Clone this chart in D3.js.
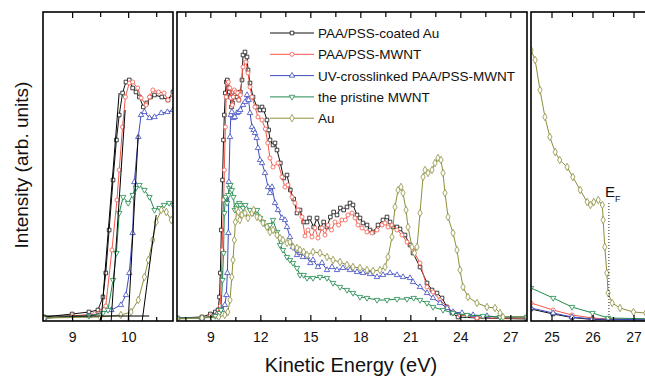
<!DOCTYPE html>
<html>
<head>
<meta charset="utf-8">
<script src="https://cdn.jsdelivr.net/npm/d3@7"></script>
<style>
  body { margin: 0; background: #fff; }
  svg { display: block; }
  text { font-family: "Liberation Sans", Arial, sans-serif; fill: #111; }
</style>
</head>
<body>
<svg id="chart" width="645" height="377"></svg>
<script>
// [kinetic energy (eV), intensity (arb. units)]
const coatedAu = [[7,3],[8.5,4],[9,7],[9.3,9],[9.46,11],[9.55,24],[9.6,48],[9.66,91],[9.73,141],[9.79,181],[9.84,206],[9.9,228],[9.96,239],[10.02,241],[10.08,233],[10.14,229],[10.2,224],[10.27,214],[10.33,218],[10.4,224],[10.47,226],[10.6,224],[10.71,221],[10.8,229],[10.9,241],[10.96,266],[11.08,269],[11.2,264],[11.26,251],[11.38,238],[11.56,224],[11.8,214],[11.98,211],[12.1,214],[12.2,211],[12.4,201],[12.5,191],[12.58,181],[12.76,176],[12.88,178],[13,171],[13.2,158],[13.4,143],[13.6,146],[13.8,131],[14,122],[14.2,108],[14.38,111],[14.6,99],[14.8,99],[14.95,103],[15.2,94],[15.4,103],[15.6,93],[15.8,99],[16,94],[16.2,104],[16.4,109],[16.6,106],[16.8,113],[17,111],[17.2,114],[17.38,118],[17.56,116],[17.8,106],[17.98,103],[18.16,98],[18.4,96],[18.58,91],[18.76,89],[19.06,96],[19.36,101],[19.6,104],[19.78,99],[19.96,94],[20.2,94],[20.38,92],[20.68,86],[20.98,76],[21.16,68],[21.58,54],[22,38],[22.3,31],[22.6,28],[22.9,23],[23.2,14],[23.5,8],[23.86,4],[25,3],[28,2]]

const paaMwnt = [[7,3],[8.5,3],[9,5],[9.4,7],[9.6,15],[9.71,71],[9.8,121],[9.84,151],[9.9,194],[9.95,224],[10.02,238],[10.08,239],[10.17,233],[10.23,223],[10.32,216],[10.38,224],[10.44,231],[10.54,229],[10.64,228],[10.71,221],[10.8,226],[10.96,254],[11.14,259],[11.26,248],[11.38,234],[11.5,224],[11.68,214],[11.86,204],[12.1,201],[12.3,192],[12.45,178],[12.58,163],[12.76,154],[13.06,158],[13.3,144],[13.48,134],[13.66,136],[13.9,124],[14.08,118],[14.26,111],[14.5,104],[14.68,85],[14.86,91],[15.1,84],[15.28,93],[15.46,83],[15.7,93],[15.88,86],[16.06,96],[16.27,91],[16.48,99],[16.7,96],[16.9,101],[17.1,101],[17.26,106],[17.5,108],[17.68,103],[17.86,96],[18.1,93],[18.4,89],[18.7,88],[19,91],[19.3,96],[19.48,98],[19.66,94],[19.9,96],[20.2,91],[20.5,86],[20.8,79],[21.16,71],[21.58,58],[22,34],[22.36,29],[22.78,21],[23.2,14],[23.56,9],[23.98,6],[25,3],[28,3]]

const uvMwnt = [[7,3],[8.5,3],[9.3,5],[9.7,11],[9.87,16],[9.96,26],[10.02,48],[10.08,88],[10.11,139],[10.18,184],[10.23,206],[10.29,209],[10.38,203],[10.47,204],[10.59,208],[10.7,209],[10.8,211],[10.96,216],[11.08,219],[11.2,226],[11.3,221],[11.38,208],[11.5,194],[11.6,191],[11.68,188],[11.78,183],[11.86,173],[11.98,161],[12.1,158],[12.28,148],[12.46,134],[12.58,128],[12.7,134],[12.88,118],[13.06,111],[13.3,103],[13.48,101],[13.6,94],[13.78,84],[13.96,74],[14.2,66],[14.38,68],[14.56,64],[14.8,64],[15,58],[15.16,61],[15.46,54],[15.7,58],[16,51],[16.3,54],[16.6,51],[16.96,53],[17.38,51],[17.8,49],[18.16,48],[18.58,47],[19,44],[19.36,46],[19.78,48],[20.2,46],[20.56,44],[20.98,43],[21.16,39],[21.58,34],[22,28],[22.36,23],[22.78,18],[23.2,13],[23.56,9],[24.1,8],[24.76,6],[25.6,5],[26.38,4],[28,4]]

const pristineMwnt = [[7,3],[8.5,3],[9.3,5],[9.55,8],[9.64,11],[9.73,41],[9.79,68],[9.84,108],[9.91,124],[10,118],[10.08,126],[10.14,133],[10.2,136],[10.29,131],[10.38,124],[10.47,111],[10.56,113],[10.64,116],[10.73,118],[10.8,116],[10.96,113],[11.1,116],[11.38,111],[11.56,108],[11.8,111],[11.98,103],[12.16,99],[12.4,94],[12.58,96],[12.76,101],[13,89],[13.18,76],[13.36,71],[13.6,64],[13.78,61],[13.96,58],[14.2,53],[14.38,46],[14.6,46],[14.8,43],[15.16,43],[15.58,44],[16,43],[16.36,38],[16.78,34],[17.2,31],[17.56,28],[17.98,24],[18.4,23],[19,21],[19.6,21],[20.2,22],[20.8,22],[21.2,23],[21.58,21],[22,18],[22.36,14],[22.96,11],[23.56,8],[24.4,6],[25.36,5],[26.38,4],[28,4]]

const bareAu = [[7,2],[8.5,3],[9.5,4],[9.87,6],[10.05,9],[10.18,21],[10.29,44],[10.36,61],[10.44,81],[10.5,99],[10.59,111],[10.68,109],[10.77,101],[10.9,106],[11.08,108],[11.26,103],[11.5,108],[11.6,111],[11.8,104],[11.98,103],[12.16,98],[12.4,94],[12.58,89],[12.76,91],[13,86],[13.18,83],[13.36,81],[13.6,78],[13.78,79],[13.96,74],[14.2,73],[14.38,71],[14.6,69],[14.8,66],[15.16,69],[15.58,68],[16,64],[16.36,61],[16.78,59],[17.2,56],[17.56,54],[17.98,53],[18.4,51],[18.76,50],[19.18,51],[19.48,54],[19.66,64],[19.9,84],[20.08,114],[20.26,131],[20.44,134],[20.56,128],[20.74,111],[20.86,94],[21.1,74],[21.25,68],[21.4,74],[21.58,108],[21.76,144],[21.88,151],[22.06,148],[22.3,151],[22.48,158],[22.66,163],[22.84,161],[22.96,148],[23.08,128],[23.26,104],[23.56,88],[23.8,71],[23.98,51],[24.16,34],[24.46,24],[25,18],[25.6,14],[26.08,13],[26.38,8],[26.56,4],[28,4]]

// Fermi-edge region, magnified intensity
const edgeCoatedAu = [[24.5,12],[25.04,7],[25.5,3.5],[26,1.5],[27.6,1]]
const edgePaaMwnt = [[24.5,18],[25.04,11],[25.5,6],[26,3],[26.38,2],[27.6,2]]
const edgeUvMwnt = [[24.5,13],[25.04,8],[25.5,4],[26,2],[27.6,1]]
const edgePristine = [[24.5,33],[25.04,23],[25.5,14],[26,8],[26.38,3],[27.6,2]]
const edgeAu = [[24.5,271],[24.6,261],[24.72,231],[24.84,204],[24.96,184],[25.09,169],[25.2,161],[25.38,154],[25.52,144],[25.7,131],[25.87,119],[25.95,116],[26.03,119],[26.14,121],[26.24,116],[26.26,101],[26.3,74],[26.35,48],[26.38,28],[26.48,18],[26.67,13],[27,9],[27.3,8],[27.6,7]]

// linear onset fits (secondary-electron cutoff), left panel
const onsetFits = [
  [[9.518,0],[9.839,228]],
  [[9.696,0],[9.946,211]],
  [[10.0,0],[10.179,186]],
  [[10.25,0],[10.5,106]],
  [[8.48,5],[10.375,5]],
]
const fermiLevel = 26.4

const seriesNames = ['PAA/PSS-coated Au', 'PAA/PSS-MWNT', 'UV-crosslinked PAA/PSS-MWNT', 'the pristine MWNT', 'Au']
const seriesColors = ['#111111', '#f4574a', '#3d4bc0', '#1f8a4c', '#8e8e3c']
const seriesSymbols = ['square', 'circle', 'triangle', 'down', 'diamond']
const wideData = [coatedAu, paaMwnt, uvMwnt, pristineMwnt, bareAu]
const edgeData = [edgeCoatedAu, edgePaaMwnt, edgeUvMwnt, edgePristine, edgeAu]

const svg = d3.select('#chart')
const plotTop = 12
const plotBottom = 321
const y = d3.scaleLinear([0, 309], [plotBottom, plotTop])

const panels = [
  { id: 'left', domain: [8.48, 10.8], range: [43, 173], ticks: [9, 9.5, 10, 10.5], labels: [9, 10], data: wideData },
  { id: 'mid', domain: [7, 28], range: [177, 527], ticks: d3.range(7.5, 27.1, 1.5), labels: [9, 12, 15, 18, 21, 24, 27], data: wideData },
  { id: 'right', domain: [24.5, 27.5], range: [531, 654], ticks: [25, 25.5, 26, 26.5, 27], labels: [25, 26, 27], data: edgeData },
]

function symbolPath(kind) {
  const gen = d3.symbol().size(13)
  if (kind === 'square') return gen.type(d3.symbolSquare)()
  if (kind === 'circle') return gen.type(d3.symbolCircle)()
  if (kind === 'diamond') return d3.symbol().size(16).type(d3.symbolDiamond)()
  return gen.type(d3.symbolTriangle)()
}
function drawMarkers(g, pts, x, i) {
  g.selectAll(null)
    .data(pts)
    .join('path')
    .attr('d', symbolPath(seriesSymbols[i]))
    .attr('transform', (d) => `translate(${x(d[0])},${y(d[1])})${seriesSymbols[i] === 'down' ? ' rotate(180)' : ''}`)
    .attr('fill', '#fff')
    .attr('stroke', seriesColors[i])
    .attr('stroke-width', 0.8)
}

const defs = svg.append('defs')

panels.forEach((p) => {
  const x = d3.scaleLinear(p.domain, p.range)
  const g = svg.append('g').attr('class', 'panel-' + p.id)

  defs.append('clipPath').attr('id', 'clip-' + p.id)
    .append('rect')
    .attr('x', p.range[0]).attr('y', plotTop)
    .attr('width', p.range[1] - p.range[0]).attr('height', plotBottom - plotTop)

  const plot = g.append('g').attr('clip-path', `url(#clip-${p.id})`)
  const line = d3.line().x((d) => x(d[0])).y((d) => y(d[1]))

  p.data.forEach((pts, i) => {
    const s = plot.append('g')
    s.append('path')
      .attr('d', line(pts))
      .attr('fill', 'none')
      .attr('stroke', seriesColors[i])
      .attr('stroke-width', 1)
    drawMarkers(s, pts, x, i)
  })

  if (p.id === 'left') {
    plot.selectAll('line.fit')
      .data(onsetFits)
      .join('line')
      .attr('class', 'fit')
      .attr('x1', (d) => x(d[0][0])).attr('y1', (d) => y(d[0][1]))
      .attr('x2', (d) => x(d[1][0])).attr('y2', (d) => y(d[1][1]))
      .attr('stroke', '#000')
      .attr('stroke-width', 1)
  }

  if (p.id === 'right') {
    plot.append('line')
      .attr('x1', x(fermiLevel)).attr('x2', x(fermiLevel))
      .attr('y1', 203).attr('y2', plotBottom)
      .attr('stroke', '#222')
      .attr('stroke-width', 1)
      .attr('stroke-dasharray', '1,2')
    const ef = g.append('text')
      .attr('x', x(fermiLevel) - 4)
      .attr('y', 197)
      .attr('font-size', 15)
    ef.append('tspan').text('E')
    ef.append('tspan').attr('font-size', 9).attr('dy', 5).text('F')
  }

  // inward ticks, bottom and top
  const bottomAxis = g.append('g')
    .attr('transform', `translate(0,${plotBottom})`)
    .call(d3.axisBottom(x).tickValues(p.ticks).tickSizeInner(-6).tickSizeOuter(0).tickPadding(11)
      .tickFormat((d) => (p.labels.includes(d) ? d3.format('d')(d) : '')))
  bottomAxis.select('.domain').remove()
  bottomAxis.selectAll('.tick line')
    .attr('y2', (d) => (p.labels.includes(d) ? -6 : -4))
    .attr('stroke', '#000').attr('stroke-width', 1.2)
  bottomAxis.selectAll('.tick text').attr('font-size', 14).attr('font-family', null)
  bottomAxis.attr('font-family', null).attr('font-size', null)

  const topAxis = g.append('g')
    .attr('transform', `translate(0,${plotTop})`)
    .call(d3.axisTop(x).tickValues(p.ticks).tickSizeInner(-6).tickSizeOuter(0).tickFormat(''))
  topAxis.select('.domain').remove()
  topAxis.selectAll('.tick line')
    .attr('y2', (d) => (p.labels.includes(d) ? 6 : 5))
    .attr('stroke', '#000').attr('stroke-width', 1.2)

  g.append('rect')
    .attr('x', p.range[0]).attr('y', plotTop)
    .attr('width', p.range[1] - p.range[0]).attr('height', plotBottom - plotTop)
    .attr('fill', 'none')
    .attr('stroke', '#000')
    .attr('stroke-width', 1.6)
})

// legend
const legend = svg.append('g').attr('class', 'legend')
seriesNames.forEach((name, i) => {
  const ly = 33 + i * 21.3
  const row = legend.append('g')
  row.append('line')
    .attr('x1', 270).attr('x2', 314).attr('y1', ly).attr('y2', ly)
    .attr('stroke', seriesColors[i]).attr('stroke-width', 1)
  row.append('path')
    .attr('d', symbolPath(seriesSymbols[i]))
    .attr('transform', `translate(292,${ly})${seriesSymbols[i] === 'down' ? ' rotate(180)' : ''}`)
    .attr('fill', '#fff')
    .attr('stroke', seriesColors[i])
    .attr('stroke-width', 0.8)
  row.append('text')
    .attr('x', 318).attr('y', ly + 5)
    .attr('font-size', 13.5)
    .text(name)
})

svg.append('text')
  .attr('transform', 'translate(28,165) rotate(-90)')
  .attr('text-anchor', 'middle')
  .attr('font-size', 19)
  .text('Intensity (arb. units)')

svg.append('text')
  .attr('x', 351).attr('y', 372)
  .attr('text-anchor', 'middle')
  .attr('font-size', 20)
  .text('Kinetic Energy (eV)')
</script>
</body>
</html>
